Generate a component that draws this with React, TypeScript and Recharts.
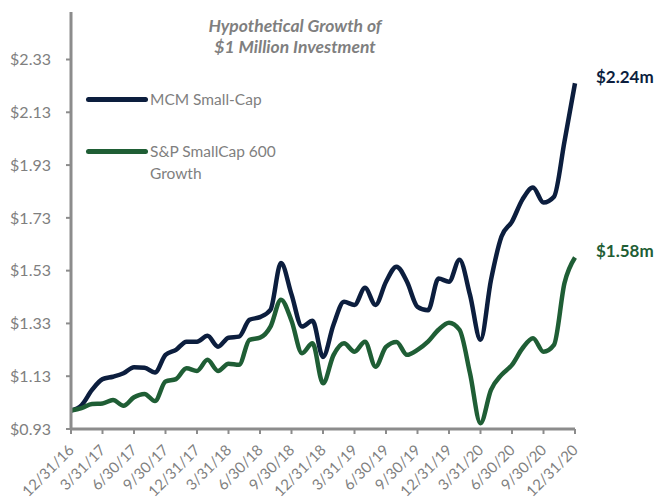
import React from 'react';
import { LineChart, Line, XAxis, YAxis, Legend } from 'recharts';

// month-end dates, 12/31/16 through 12/31/20
const dates = [
  '12/31/16', '1/31/17', '2/28/17', '3/31/17', '4/30/17', '5/31/17', '6/30/17',
  '7/31/17', '8/31/17', '9/30/17', '10/31/17', '11/30/17', '12/31/17',
  '1/31/18', '2/28/18', '3/31/18', '4/30/18', '5/31/18', '6/30/18',
  '7/31/18', '8/31/18', '9/30/18', '10/31/18', '11/30/18', '12/31/18',
  '1/31/19', '2/28/19', '3/31/19', '4/30/19', '5/31/19', '6/30/19',
  '7/31/19', '8/31/19', '9/30/19', '10/31/19', '11/30/19', '12/31/19',
  '1/31/20', '2/29/20', '3/31/20', '4/30/20', '5/31/20', '6/30/20',
  '7/31/20', '8/31/20', '9/30/20', '10/31/20', '11/30/20', '12/31/20',
];

const mcmSmallCap = [
  1.0, 1.02, 1.078, 1.119, 1.128, 1.141, 1.164,
  1.162, 1.144, 1.211, 1.23, 1.261, 1.261,
  1.283, 1.242, 1.276, 1.28, 1.344, 1.354,
  1.382, 1.559, 1.44, 1.318, 1.34, 1.203,
  1.325, 1.412, 1.4, 1.465, 1.4, 1.488,
  1.545, 1.488, 1.393, 1.38, 1.5, 1.488,
  1.571, 1.438, 1.268, 1.495, 1.659, 1.716,
  1.8, 1.845, 1.788, 1.81, 2.02, 2.24,
];

const spSmallCap600Growth = [
  1.0, 1.009, 1.025, 1.027, 1.04, 1.018, 1.05,
  1.063, 1.036, 1.11, 1.119, 1.16, 1.15,
  1.192, 1.15, 1.177, 1.173, 1.268, 1.276,
  1.318, 1.42, 1.34, 1.217, 1.255, 1.103,
  1.21, 1.255, 1.223, 1.261, 1.166, 1.241,
  1.26, 1.211, 1.23, 1.261, 1.306, 1.333,
  1.306, 1.141, 0.952, 1.078, 1.135, 1.173,
  1.236, 1.274, 1.223, 1.249, 1.483, 1.58,
];

const yTicks = [0.93, 1.13, 1.33, 1.53, 1.73, 1.93, 2.13, 2.33];

const data = dates.map((date, i) => ({
  date,
  mcm: mcmSmallCap[i],
  sp: spSmallCap600Growth[i],
}));

const NAVY = '#0c1e3e';
const GREEN = '#1f5e35';
const GRAY = '#7f7f7f';
const AXIS = '#8c8c8c';
const FONT = 'Lato, "Open Sans", sans-serif';

function DateTick({ x, y, payload }: any) {
  const ax = x + 4;
  const ay = y + 15;
  return (
    <text
      x={ax}
      y={ay}
      transform={`rotate(-45, ${ax}, ${ay})`}
      textAnchor="end"
      fill={GRAY}
      fontSize={15}
      fontFamily={FONT}
    >
      {payload.value}
    </text>
  );
}

const endLabel = (color: string) => (props: any) => {
  const { x, y, index, value } = props;
  if (index !== data.length - 1) return null;
  return (
    <text x={x + 21} y={y} fill={color} fontSize={17} fontWeight={700} fontFamily={FONT}>
      {`$${Number(value).toFixed(2)}m`}
    </text>
  );
};

function LegendBox({ payload }: any) {
  return (
    <div style={{ fontFamily: FONT, fontSize: 15.5, color: GRAY, lineHeight: '22px' }}>
      {(payload || []).map((p: any, i: number) => (
        <div key={p.value} style={{ display: 'flex', alignItems: 'flex-start', marginTop: i ? 30 : 0 }}>
          <div style={{ width: 62, height: 5, borderRadius: 3, background: p.color, marginTop: 8.5, flexShrink: 0 }} />
          <div style={{ marginLeft: 2, width: 130 }}>{p.value}</div>
        </div>
      ))}
    </div>
  );
}

export default function App() {
  return (
    <div style={{ position: 'absolute', left: 0, top: 0, width: 662, height: 502, background: '#fff' }}>
      <div
        style={{
          position: 'absolute',
          left: 185,
          top: 15,
          width: 220,
          textAlign: 'center',
          fontFamily: FONT,
          fontWeight: 700,
          fontStyle: 'italic',
          fontSize: 17.5,
          lineHeight: '21px',
          color: GRAY,
        }}
      >
        Hypothetical Growth of
        <br />
        $1 Million Investment
      </div>
      <LineChart width={662} height={502} data={data} margin={{ top: 12, right: 87, bottom: 0, left: 0 }}>
        <XAxis
          dataKey="date"
          interval={2}
          height={73}
          tick={<DateTick />}
          tickSize={5}
          tickMargin={2}
          axisLine={{ stroke: AXIS, strokeWidth: 3 }}
          tickLine={{ stroke: AXIS, strokeWidth: 2 }}
        />
        <YAxis
          domain={[0.93, 2.51]}
          ticks={yTicks}
          width={71}
          tickSize={5}
          tickMargin={15}
          tickFormatter={(v: number) => `$${v.toFixed(2)}`}
          tick={{ fill: GRAY, fontSize: 16, fontFamily: FONT }}
          axisLine={{ stroke: AXIS, strokeWidth: 3 }}
          tickLine={{ stroke: AXIS, strokeWidth: 2 }}
        />
        <Legend
          content={<LegendBox />}
          wrapperStyle={{ position: 'absolute', left: 86, top: 88, width: 220, height: 0, overflow: 'visible' }}
        />
        <Line
          type="monotone"
          dataKey="mcm"
          name="MCM Small-Cap"
          stroke={NAVY}
          strokeWidth={4.5}
          dot={false}
          isAnimationActive={false}
          label={endLabel(NAVY)}
        />
        <Line
          type="monotone"
          dataKey="sp"
          name="S&P SmallCap 600 Growth"
          stroke={GREEN}
          strokeWidth={4.5}
          dot={false}
          isAnimationActive={false}
          label={endLabel(GREEN)}
        />
      </LineChart>
    </div>
  );
}
